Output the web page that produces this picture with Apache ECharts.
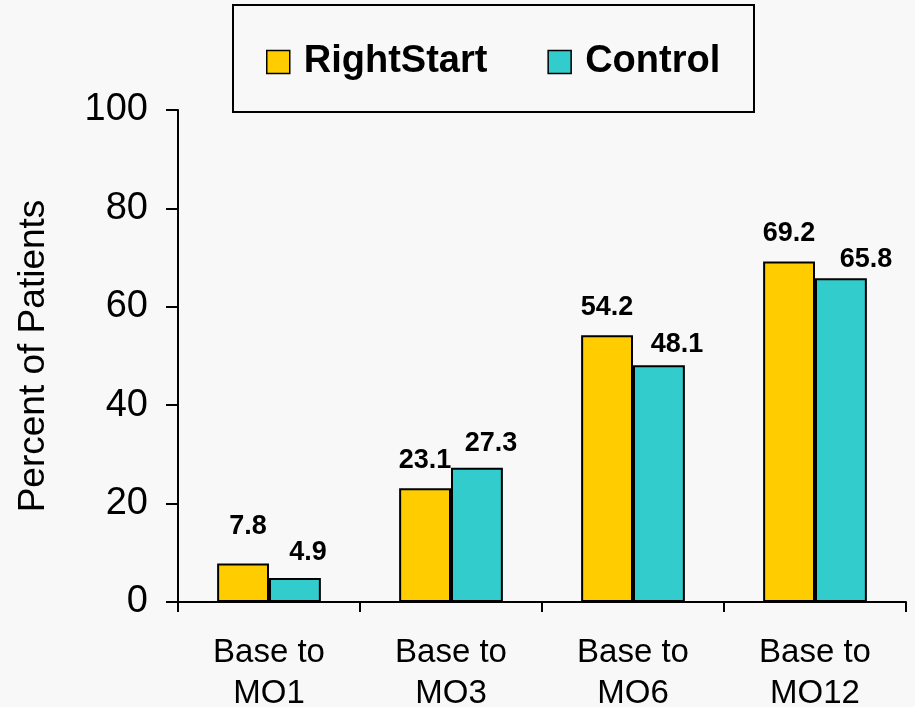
<!DOCTYPE html>
<html>
<head>
<meta charset="utf-8">
<title>RightStart vs Control</title>
<script src="https://cdn.jsdelivr.net/npm/echarts@6/dist/echarts.min.js"></script>
<style>
  html, body { margin: 0; padding: 0; background: #f8f8f8; }
  #chart { width: 915px; height: 707px; }
</style>
</head>
<body>
<div id="chart"></div>
<script>
const categories = ['Base to\nMO1', 'Base to\nMO3', 'Base to\nMO6', 'Base to\nMO12'];
const rightStart = [7.8, 23.1, 54.2, 69.2];
const control = [4.9, 27.3, 48.1, 65.8];
const yTicks = [0, 20, 40, 60, 80, 100];

const font = '"Liberation Sans", Arial, sans-serif';

// label nudges so the value labels sit where the original puts them
const rsNudge = [[5, -10], [0, 0], [0, 0], [0, 0]];
const ctNudge = [[13, 2], [14, 3], [18, 7], [25, 9]];

function withLabels(values, nudge) {
  return values.map((v, i) => ({
    value: v,
    label: { offset: nudge[i] }
  }));
}

const chart = echarts.init(document.getElementById('chart'));

const barLabel = {
  show: true,
  position: 'top',
  distance: 14,
  color: '#000',
  fontFamily: font,
  fontWeight: 'bold',
  fontSize: 27,
  formatter: (p) => p.value.toFixed(1)
};

chart.setOption({
  backgroundColor: '#f8f8f8',
  animation: false,
  graphic: [
    {
      type: 'rect',
      shape: { x: 233, y: 5, width: 521, height: 107 },
      style: { fill: 'transparent', stroke: '#000', lineWidth: 2 },
      z: 1
    }
  ],
  legend: {
    left: 266,
    top: 43,
    padding: 0,
    itemGap: 60,
    itemWidth: 23,
    itemHeight: 23,
    icon: 'rect',
    itemStyle: { borderColor: '#000', borderWidth: 1.5 },
    textStyle: {
      fontFamily: font,
      fontWeight: 'bold',
      fontSize: 38,
      color: '#000',
      padding: [0, 0, 0, 9]
    },
    data: ['RightStart', 'Control']
  },
  grid: { left: 178, right: 9, top: 110, bottom: 105, containLabel: false, outerBoundsMode: 'none' },
  xAxis: {
    type: 'category',
    data: categories,
    axisLine: { lineStyle: { color: '#000', width: 2 } },
    axisTick: { show: true, length: 10, lineStyle: { color: '#000', width: 2 } },
    axisLabel: {
      color: '#000',
      fontFamily: font,
      fontSize: 33,
      lineHeight: 41,
      margin: 30,
      interval: 0
    }
  },
  yAxis: {
    type: 'value',
    min: yTicks[0],
    max: yTicks[yTicks.length - 1],
    interval: 20,
    name: 'Percent of Patients',
    nameLocation: 'middle',
    nameGap: 126,
    nameTextStyle: { color: '#000', fontFamily: font, fontSize: 37 },
    axisLine: { show: true, lineStyle: { color: '#000', width: 2 } },
    axisTick: { show: true, length: 12, lineStyle: { color: '#000', width: 2 } },
    splitLine: { show: false },
    axisLabel: {
      color: '#000',
      fontFamily: font,
      fontSize: 38,
      margin: 30
    }
  },
  series: [
    {
      name: 'RightStart',
      type: 'bar',
      data: withLabels(rightStart, rsNudge),
      barGap: '0%',
      barCategoryGap: '43%',
      itemStyle: { color: '#FFCC00', borderColor: '#000', borderWidth: 2 },
      label: barLabel
    },
    {
      name: 'Control',
      type: 'bar',
      data: withLabels(control, ctNudge),
      itemStyle: { color: '#33CCCC', borderColor: '#000', borderWidth: 2 },
      label: barLabel
    }
  ]
});
</script>
</body>
</html>
